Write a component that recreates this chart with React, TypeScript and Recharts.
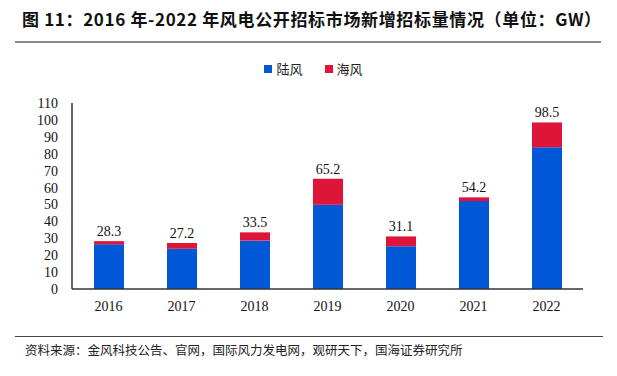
import React from 'react';
import { BarChart, Bar, XAxis, YAxis, LabelList } from 'recharts';

const years = ['2016', '2017', '2018', '2019', '2020', '2021', '2022'];
const onshore = [26.4, 23.8, 28.6, 49.8, 25.3, 52.0, 83.8];
const totals = [28.3, 27.2, 33.5, 65.2, 31.1, 54.2, 98.5];
const yTicks = [0, 10, 20, 30, 40, 50, 60, 70, 80, 90, 100, 110];

const BLUE = '#0058D6';
const RED = '#DE1538';

const data = years.map((year, i) => ({
  year,
  onshore: onshore[i],
  offshore: +(totals[i] - onshore[i]).toFixed(1),
  total: totals[i],
}));

const serif = '"Liberation Serif", "Times New Roman", serif';
const cjk = '"Noto Sans CJK SC", sans-serif';

const legendItems = [
  { name: '陆风', color: BLUE },
  { name: '海风', color: RED },
];

// plain serif tick so the labels don't fall back to the sans default
const SerifTick = (props: any) => {
  const { x, y, payload, textAnchor } = props;
  return (
    <text x={x} y={y} dy="0.355em" textAnchor={textAnchor} fill="#111" fontSize={14} fontFamily={serif}>
      {payload.value}
    </text>
  );
};

export default function App() {
  return (
    <div style={{ position: 'absolute', left: 0, top: 0, width: 617, height: 376, background: '#fff' }}>
      <div
        style={{
          position: 'absolute',
          left: 22,
          top: 6,
          fontFamily: cjk,
          fontWeight: 700,
          fontSize: 17,
          letterSpacing: 0.65,
          color: '#111',
          whiteSpace: 'nowrap',
        }}
      >
        图 11：2016 年-2022 年风电公开招标市场新增招标量情况（单位：GW）
      </div>
      <div style={{ position: 'absolute', left: 15, top: 41, width: 586, height: 2, background: '#8a8a8a' }} />

      {/* legend */}
      <div
        style={{
          position: 'absolute',
          left: 5,
          top: 59,
          width: 617,
          display: 'flex',
          justifyContent: 'center',
          gap: 22,
          fontFamily: cjk,
          fontSize: 13,
          color: '#222',
        }}
      >
        {legendItems.map((item) => (
          <div key={item.name} style={{ display: 'flex', alignItems: 'center', gap: 4 }}>
            <span style={{ display: 'inline-block', width: 8, height: 8, background: item.color }} />
            <span>{item.name}</span>
          </div>
        ))}
      </div>

      <div style={{ position: 'absolute', left: 0, top: 0 }}>
        <BarChart
          width={617}
          height={376}
          data={data}
          margin={{ top: 103, right: 34, left: 0, bottom: 57 }}
          barSize={30}
        >
          <XAxis
            dataKey="year"
            axisLine={{ stroke: '#333', strokeWidth: 1.5 }}
            tickLine={false}
            tick={{ fill: '#111', fontSize: 14, fontFamily: serif }}
            tickMargin={6}
            height={30}
          />
          <YAxis
            domain={[0, 110]}
            ticks={yTicks}
            interval={0}
            axisLine={{ stroke: '#333', strokeWidth: 1.5 }}
            tickLine={false}
            tick={<SerifTick />}
            tickMargin={8}
            width={72}
          />
          <Bar dataKey="onshore" name="陆风" stackId="a" fill={BLUE} isAnimationActive={false} />
          <Bar dataKey="offshore" name="海风" stackId="a" fill={RED} isAnimationActive={false}>
            <LabelList
              dataKey="total"
              position="top"
              offset={5}
              style={{ fill: '#111', fontSize: 14, fontFamily: serif }}
            />
          </Bar>
        </BarChart>
      </div>

      <div style={{ position: 'absolute', left: 15, top: 336, width: 588, height: 1, background: '#444' }} />
      <div
        style={{
          position: 'absolute',
          left: 25,
          top: 340,
          fontFamily: cjk,
          fontSize: 12.5,
          color: '#222',
          whiteSpace: 'nowrap',
        }}
      >
        资料来源：金风科技公告、官网，国际风力发电网，观研天下，国海证券研究所
      </div>
    </div>
  );
}
